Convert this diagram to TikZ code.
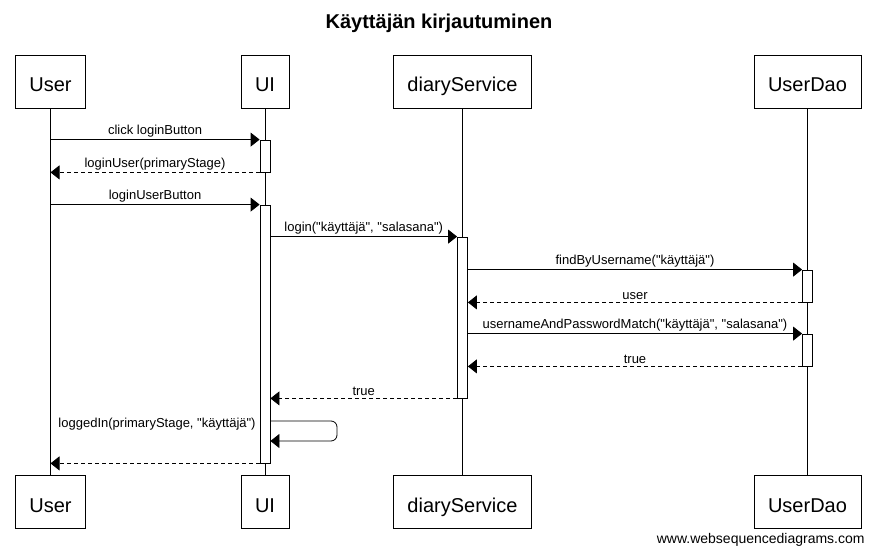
\documentclass[tikz,border=0pt]{standalone}
\usepackage{fontspec}
\setmainfont{Liberation Sans}[Ligatures=TeXOff]
\usetikzlibrary{arrows.meta,positioning}

\tikzset{
  actor/.style={draw, minimum height=53pt, inner xsep=14pt, text height=21pt, text depth=0pt, font=\fontsize{20}{24}\selectfont},
  act/.style={draw, fill=white, minimum width=10pt, inner sep=0pt},
  msg/.style={-{Triangle[length=9pt,width=14pt]}},
  ret/.style={msg, dash pattern=on 4pt off 3pt},
  lbl/.style={font=\fontsize{13}{15}\selectfont, inner sep=2pt}
}

\begin{document}
\begin{tikzpicture}[x=1pt,y=-1pt,line width=0.8pt]
  \useasboundingbox (0,0) rectangle (875,553);

  \node[font=\bfseries\fontsize{20}{24}\selectfont] (title) at (439,23) {Käyttäjän kirjautuminen};

  % participants, top and bottom
  \foreach \n/\x/\t in {user/50.5/User, ui/265/UI, ds/462.5/diaryService, dao/807.5/UserDao} {
    \node[actor] (\n T) at (\x,81.5) {\t};
    \node[actor] (\n B) at (\x,501.5) {\t};
    \draw (\n T) -- (\n B);
  }

  % activations
  \node[act, minimum height=32pt]  (a1) at (265,156) {};
  \node[act, minimum height=258pt] (a2) at (265,334) {};
  \node[act, minimum height=161pt] (a3) at (462.5,317.5) {};
  \node[act, minimum height=32pt]  (a4) at (807.5,286) {};
  \node[act, minimum height=32pt]  (a5) at (807.5,350) {};

  % messages
  \draw[msg] (userT |- a1.north) -- node[lbl, above] {click loginButton} (a1.north west);
  \draw[ret] (a1.south west) -- node[lbl, above] {loginUser(primaryStage)} (userT |- a1.south);
  \draw[msg] (userT |- a2.north) -- node[lbl, above] {loginUserButton} (a2.north west);
  \draw[msg] (a2.east |- a3.north) -- node[lbl, above] {login("käyttäjä", "salasana")} (a3.north west);
  \draw[msg] (a3.east |- a4.north) -- node[lbl, above] {findByUsername("käyttäjä")} (a4.north west);
  \draw[ret] (a4.south west) -- node[lbl, above] {user} (a3.east |- a4.south);
  \draw[msg] (a3.east |- a5.north) -- node[lbl, above] {usernameAndPasswordMatch("käyttäjä", "salasana")} (a5.north west);
  \draw[ret] (a5.south west) -- node[lbl, above] {true} (a3.east |- a5.south);
  \draw[ret] (a3.south west) -- node[lbl, above] {true} (a2.east |- a3.south);

  % self call
  \coordinate (s1) at (a2.east |- 0,421);
  \coordinate (s2) at (a2.east |- 0,441);
  \draw[msg, rounded corners=6pt] (s1) -- (337,421) -- (337,441) -- (s2);
  \node[lbl, anchor=east] (selflbl) at (258,424) {loggedIn(primaryStage, "käyttäjä")};

  \draw[ret] (a2.south west) -- (userT |- a2.south);

  \node[lbl, font=\fontsize{14}{16}\selectfont, anchor=east] (wsd) at (867,540) {www.websequencediagrams.com};
\end{tikzpicture}
\end{document}
